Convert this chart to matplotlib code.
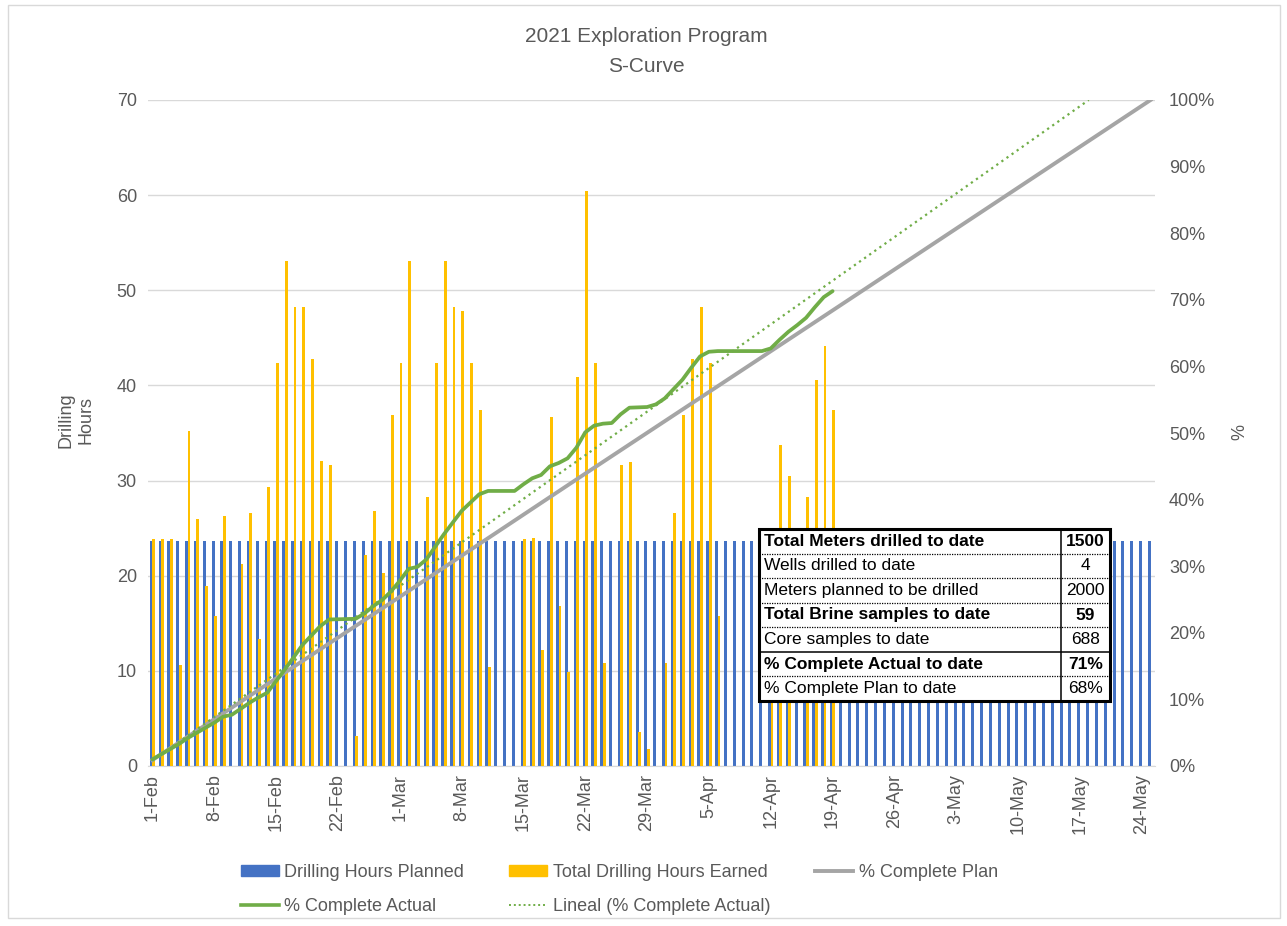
import numpy as np
import pandas as pd
import matplotlib
matplotlib.use("Agg")
import matplotlib.pyplot as plt
import matplotlib.dates as mdates
from matplotlib.patches import Rectangle, Patch
from matplotlib.lines import Line2D
from matplotlib.ticker import PercentFormatter, FixedLocator

plt.rcParams["font.family"] = ["Liberation Sans", "DejaVu Sans"]
TXT = "#595959"

# ---- data ----
start = pd.Timestamp("2021-02-01")

# drilling hours planned, one bar per day 1-Feb .. 25-May
hours_planned = [23.7] * 114

# total drilling hours earned, one value per day 1-Feb .. 19-Apr
hours_earned = [
    23.9, 23.9, 23.9, 10.6, 35.2, 26.0, 18.9, 15.8, 26.3, 0.0,
    21.2, 26.6, 13.4, 29.3, 42.4, 53.1, 48.2, 48.2, 42.8, 32.1,
    31.6, 0.0, 0.0, 3.2, 22.2, 26.8, 20.3, 36.9, 42.4, 53.1,
    9.0, 28.3, 42.4, 53.1, 48.2, 47.8, 42.4, 37.4, 10.4, 0.0,
    0.0, 0.0, 23.9, 24.0, 12.2, 36.7, 16.8, 9.9, 40.9, 60.4,
    42.4, 10.8, 0.0, 31.6, 32.0, 3.6, 1.8, 0.0, 10.8, 26.6,
    36.9, 42.8, 48.2, 42.4, 15.8, 0.0, 0.0, 0.0, 0.0, 0.0,
    12.0, 33.7, 30.5, 0.0, 28.3, 40.6, 44.1, 37.4,
]

# % complete plan (days after 1-Feb)
plan_day = [0, 28, 49, 77, 113]
plan_pct = [0.9, 25.4, 43.9, 68.4, 100.0]

# % complete actual (days after 1-Feb)
actual_day = [0, 3, 4, 7, 8, 9, 11, 12, 13, 15, 17, 19, 20, 23, 24, 25, 26, 27,
              28, 29, 30, 31, 33, 35, 37, 38, 41, 42, 43, 44, 45, 46, 47, 48,
              49, 50, 51, 52, 53, 54, 56, 57, 58, 60, 61, 62, 63, 64, 69, 70,
              71, 72, 73, 74, 75, 76, 77]
actual_pct = [1.0, 3.3, 4.2, 6.5, 7.4, 7.7, 9.5, 10.3, 11.0, 14.5, 18.2, 21.0,
              22.0, 22.1, 22.9, 24.0, 24.9, 26.2, 27.8, 29.6, 29.9, 31.0, 34.8,
              38.3, 40.8, 41.3, 41.3, 42.3, 43.2, 43.7, 45.0, 45.5, 46.2, 47.8,
              50.1, 51.1, 51.4, 51.5, 52.8, 53.8, 53.9, 54.3, 55.2, 58.0, 59.8,
              61.5, 62.2, 62.3, 62.3, 62.7, 64.0, 65.2, 66.2, 67.3, 68.9, 70.4,
              71.3]

# linear trend of % complete actual
trend_day = [0, 106]
trend_pct = [0.8, 100.0]

table_labels = ["Total Meters drilled to date", "Wells drilled to date",
                "Meters planned to be drilled", "Total Brine samples to date",
                "Core samples to date", "% Complete Actual to date",
                "% Complete Plan to date"]
table_values = ["1500", "4", "2000", "59", "688", "71%", "68%"]
table_bold = [True, False, False, True, False, True, False]

# ---- figure ----
W, H = 1287, 926
fig = plt.figure(figsize=(W / 100, H / 100), dpi=100)


def fx(px):
    return px / W


def fy(py):
    return 1 - py / H


fig.patches.append(Rectangle((fx(8), fy(918)), fx(1272), 1 - fy(913), transform=fig.transFigure,
                             fill=False, edgecolor="#D9D9D9", lw=1))

ax = fig.add_axes([fx(148), fy(766), fx(1155 - 148), fy(100) - fy(766)])
ax2 = ax.twinx()

x0 = mdates.date2num(start)
planned_x = x0 + np.arange(len(hours_planned))
earned_x = x0 + np.arange(len(hours_earned))

ax.bar(planned_x - 0.14, hours_planned, width=0.34, color="#4472C4", zorder=2)
ax.bar(earned_x + 0.14, hours_earned, width=0.32, color="#FFC000", zorder=3)

ax.set_ylim(0, 70)
ax.set_yticks(range(0, 71, 10))
ax.set_xlim(x0 - 0.5, x0 + len(hours_planned) - 0.5)
ax.yaxis.grid(True, color="#D9D9D9", lw=1)
ax.set_axisbelow(True)
for s in ["top", "left", "right"]:
    ax.spines[s].set_visible(False)
ax.spines["bottom"].set_color("#D9D9D9")

ticks = pd.date_range("2021-02-01", "2021-05-24", freq="7D")
ax.xaxis.set_major_locator(FixedLocator(mdates.date2num(ticks)))
ax.xaxis.set_major_formatter(mdates.DateFormatter("%-d-%b"))
ax.tick_params(axis="x", length=0, pad=6, labelrotation=90, labelsize=13, labelcolor=TXT)
ax.tick_params(axis="y", length=0, pad=8, labelsize=13, labelcolor=TXT)

ax2.plot(x0 + np.array(plan_day), plan_pct, color="#A5A5A5", lw=2.8, zorder=3)
ax2.plot(x0 + np.array(actual_day), actual_pct, color="#70AD47", lw=2.7, zorder=4,
         solid_joinstyle="round", solid_capstyle="round")
ax2.plot(x0 + np.array(trend_day), trend_pct, color="#70AD47", lw=1.6, ls=(0, (1, 1.8)), zorder=4)
ax2.set_ylim(0, 100)
ax2.set_yticks(range(0, 101, 10))
ax2.yaxis.set_major_formatter(PercentFormatter(100, decimals=0))
ax2.tick_params(axis="y", length=0, pad=10, labelsize=13, labelcolor=TXT)
for s in ["top", "left", "right", "bottom"]:
    ax2.spines[s].set_visible(False)

# titles and axis labels
fig.text(fx(646), fy(36), "2021 Exploration Program", ha="center", va="center", fontsize=15, color=TXT)
fig.text(fx(646), fy(66), "S-Curve", ha="center", va="center", fontsize=15, color=TXT)
fig.text(fx(76), fy(420), "Drilling\nHours", rotation=90, ha="center", va="center",
         multialignment="center", fontsize=13, color=TXT)
fig.text(fx(1240), fy(432), "%", rotation=90, ha="center", va="center", fontsize=13, color=TXT)

# legend (row order like the original)
h_planned = Patch(color="#4472C4")
h_earned = Patch(color="#FFC000")
h_plan = Line2D([], [], color="#A5A5A5", lw=2.8)
h_actual = Line2D([], [], color="#70AD47", lw=2.6)
h_trend = Line2D([], [], color="#70AD47", lw=1.4, ls=(0, (1, 1.5)))
fig.legend([h_planned, h_actual, h_earned, h_trend, h_plan],
           ["Drilling Hours Planned", "% Complete Actual", "Total Drilling Hours Earned",
            "Lineal (% Complete Actual)", "% Complete Plan"],
           ncol=3, loc="upper left", bbox_to_anchor=(fx(232), fy(855)), frameon=False,
           fontsize=13, labelcolor=TXT, handlelength=2.1, handleheight=0.5,
           handletextpad=0.3, columnspacing=2.5, labelspacing=0.95, borderpad=0)

# summary table
tx0, tx1, tcol, tt, tb = 759, 1110, 1061, 529, 701
tax = fig.add_axes([fx(tx0), fy(tb), fx(tx1 - tx0), fy(tt) - fy(tb)], zorder=5)
tax.set_xlim(tx0, tx1)
tax.set_ylim(tb, tt)
tax.axis("off")
tax.add_patch(Rectangle((tx0, tt), tx1 - tx0, tb - tt, facecolor="white", edgecolor="none"))
nrows = len(table_labels)
rh = (tb - tt) / nrows
for i, (lab, val, bold) in enumerate(zip(table_labels, table_values, table_bold)):
    yc = tt + rh * (i + 0.5)
    fw = "bold" if bold else "normal"
    tax.text(tx0 + 5, yc, lab, ha="left", va="center", fontsize=12.5, fontweight=fw, color="black")
    tax.text((tcol + tx1) / 2, yc, val, ha="center", va="center", fontsize=12.5, fontweight=fw, color="black")
    if i > 0:
        yl = tt + rh * i
        if i == 5:
            tax.plot([tx0, tx1], [yl, yl], color="black", lw=1.1)
        else:
            tax.plot([tx0, tx1], [yl, yl], color="black", lw=0.9, ls=(0, (1, 1)))
tax.plot([tcol, tcol], [tt, tb], color="black", lw=1.1)
tax.add_patch(Rectangle((tx0, tt), tx1 - tx0, tb - tt, fill=False, edgecolor="black", lw=2.2,
                        clip_on=False))

fig.savefig("out.png", dpi=100)
